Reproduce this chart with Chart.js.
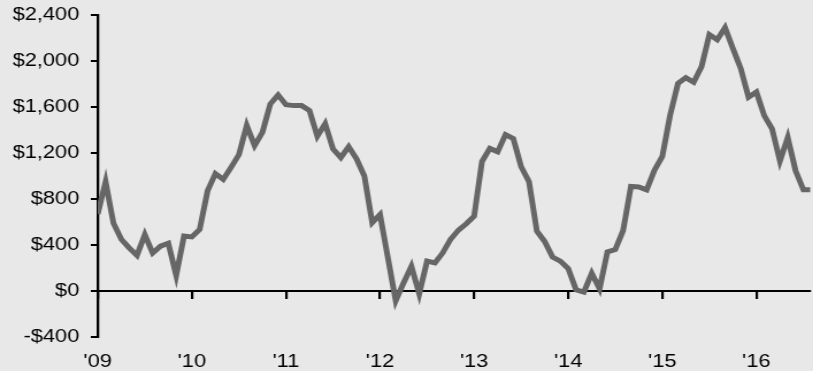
<!DOCTYPE html>
<html>
<head>
<meta charset="utf-8">
<script src="https://cdn.jsdelivr.net/npm/chart.js@4.4.1/dist/chart.umd.min.js"></script>
<style>
  html, body { margin: 0; padding: 0; background: #e8e8e8; overflow: hidden; }
  /* the reference is a bit stretched sideways, so draw narrow and widen it */
  #wrap { width: 707px; height: 371px; transform: scaleX(1.15); transform-origin: 0 0; }
</style>
</head>
<body>
<div id="wrap"><canvas id="graph"></canvas></div>
<script>
// monthly values, Jan 2009 .. Aug 2016
var values = [
    670, 950, 590, 450, 375, 310, 490, 330, 390, 415, 135, 478,
    470, 535, 870, 1020, 970, 1075, 1185, 1440, 1265, 1380, 1625, 1705,
    1620, 1612, 1612, 1570, 1345, 1455, 1235, 1160, 1255, 1150, 1000, 595,
    665, 290, -85, 70, 215, -25, 260, 245, 332, 450, 530, 585,
    650, 1125, 1240, 1210, 1360, 1325, 1080, 950, 520, 430, 295, 260,
    195, 10, -10, 155, 20, 340, 360, 525, 910, 905, 880, 1050,
    1170, 1530, 1805, 1855, 1815, 1950, 2230, 2185, 2290, 2110, 1935, 1685,
    1730, 1525, 1410, 1130, 1335, 1045, 880, 880
];
var yearTicks = [0, 12, 24, 36, 48, 60, 72, 84];
var yearLabels = ["'09", "'10", "'11", "'12", "'13", "'14", "'15", "'16"];
var yMin = -400, yMax = 2400, yStep = 400;
var xMax = 90.86;

function money(v) {
    var s = '$' + Math.abs(v).toLocaleString('en-US');
    return v < 0 ? '-' + s : s;
}

function setYearTicks(scale) {
    scale.ticks = yearTicks.map(function (v) { return { value: v }; });
}

// fixed box sizes so the plot area lands where the reference has it
function fitBox(w, h) {
    return function (scale) {
        if (w !== null) scale.width = w;
        if (h !== null) scale.height = h;
        scale.paddingTop = 0; scale.paddingBottom = 0;
        scale.paddingLeft = 0; scale.paddingRight = 0;
    };
}

var font = { family: "'Liberation Sans', Arial, sans-serif", size: 19 };

var ctx = document.getElementById("graph").getContext("2d");
var lineChart = new Chart(ctx, {
    type: "line",
    data: {
        datasets: [{
            data: values.map(function (v, i) { return { x: i, y: v }; }),
            borderColor: "#666666",
            borderWidth: 5,
            pointRadius: 0,
            tension: 0,
            fill: false
        }]
    },
    options: {
        responsive: true,
        maintainAspectRatio: false,
        animation: false,
        layout: { padding: { top: 15, left: 0, right: 0, bottom: 0 } },
        plugins: { legend: { display: false }, tooltip: { enabled: false } },
        scales: {
            x: {
                type: "linear",
                position: "bottom",
                min: 0,
                max: xMax,
                afterBuildTicks: setYearTicks,
                afterFit: fitBox(null, 34),
                grid: { display: false, drawTicks: false },
                border: { display: false },
                ticks: {
                    color: "#000",
                    font: font,
                    padding: 13,
                    maxRotation: 0,
                    autoSkip: false,
                    callback: function (v) { return yearLabels[yearTicks.indexOf(v)]; }
                }
            },
            zero: {
                type: "linear",
                axis: "x",
                position: { y: 0 },
                min: 0,
                max: xMax,
                afterBuildTicks: setYearTicks,
                afterFit: fitBox(null, 0),
                grid: { drawOnChartArea: false, drawTicks: true, tickLength: 7, color: "#000", lineWidth: 2.2 },
                border: { display: true, color: "#000", width: 2 },
                ticks: { display: false }
            },
            y: {
                position: "left",
                min: yMin,
                max: yMax,
                afterFit: fitBox(85, null),
                grid: { drawOnChartArea: false, drawTicks: true, tickLength: 6, color: "#000", lineWidth: 2 },
                border: { display: true, color: "#000", width: 2.3 },
                ticks: {
                    stepSize: yStep,
                    color: "#000",
                    font: font,
                    padding: 10,
                    callback: function (v) { return money(v); }
                }
            }
        }
    }
});
</script>
</body>
</html>
